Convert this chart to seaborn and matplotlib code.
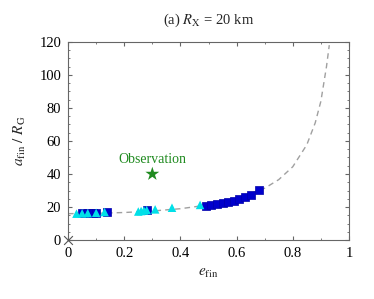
import numpy as np
import pandas as pd
import matplotlib
matplotlib.use("Agg")
from matplotlib import pyplot as plt
from matplotlib.ticker import MultipleLocator
import seaborn as sns

# dashed theory curve
curve_e = [0.0, 0.1, 0.2, 0.3, 0.4, 0.5, 0.6, 0.7, 0.75, 0.8, 0.85, 0.88, 0.9, 0.92, 0.93]
curve_a = [16.0, 16.2, 16.7, 17.6, 19.0, 21.3, 25.0, 31.4, 36.6, 44.4, 57.7, 71.0, 84.0, 105.0, 118.0]

# blue squares
sq_e = [0.05, 0.07, 0.09, 0.10, 0.14, 0.28, 0.49, 0.51, 0.53, 0.55, 0.57, 0.59, 0.61, 0.63, 0.65, 0.68]
sq_a = [16.2, 16.3, 16.4, 16.5, 16.9, 18.0, 20.5, 21.0, 21.6, 22.3, 23.0, 23.8, 24.8, 25.8, 27.5, 30.5]

# cyan triangles
tri_e = [0.03, 0.05, 0.07, 0.10, 0.13, 0.25, 0.26, 0.27, 0.28, 0.31, 0.37, 0.47]
tri_a = [16.0, 16.2, 16.3, 16.5, 17.0, 17.3, 17.6, 17.9, 18.2, 18.6, 19.6, 21.3]

obs_e, obs_a = [0.3], [40.0]

sns.set_style("ticks")
plt.rcParams["font.family"] = ["Liberation Serif", "DejaVu Serif"]
plt.rcParams["mathtext.fontset"] = "stix"

fig = plt.figure(figsize=(3.74, 2.99), dpi=100)
ax = fig.add_axes([0.182, 0.197, 0.751, 0.663])

sns.lineplot(x=curve_e, y=curve_a, ax=ax, color="#a0a0a0", lw=1.0,
             linestyle=(0, (4, 3)), zorder=1)
sns.scatterplot(x=sq_e, y=sq_a, ax=ax, marker="s", s=36, color="#0000cc",
                edgecolor="#0000aa", linewidth=0.5, zorder=2)
sns.scatterplot(x=tri_e, y=tri_a, ax=ax, marker="^", s=38, color="#00e0e8",
                edgecolor="none", zorder=3)
sns.scatterplot(x=obs_e, y=obs_a, ax=ax, marker="*", s=110, color="#1f8a1f",
                edgecolor="none", zorder=4)
sns.scatterplot(x=[0.0], y=[0.0], ax=ax, marker="x", s=40, color="#555555",
                linewidth=0.8, zorder=4, clip_on=False)
ax.text(0.3, 49, "Observation", color="#1f8a1f", fontsize=10, ha="center", va="center")

ax.set_xlim(0, 1)
ax.set_ylim(0, 120)
ax.xaxis.set_major_locator(MultipleLocator(0.2))
ax.xaxis.set_minor_locator(MultipleLocator(0.1))
ax.yaxis.set_major_locator(MultipleLocator(20))
ax.yaxis.set_minor_locator(MultipleLocator(5))
ax.set_xticks([0, 0.2, 0.4, 0.6, 0.8, 1.0])
ax.set_xticklabels(["0", "0.2", "0.4", "0.6", "0.8", "1"])
ax.tick_params(which="both", direction="in", top=True, right=True,
               color="#666666", labelcolor="black", labelsize=10.5, pad=5)
ax.tick_params(which="major", length=3)
ax.tick_params(which="minor", length=1.5)
for s in ax.spines.values():
    s.set_color("#666666")
    s.set_linewidth(0.8)

ax.set_xlabel(r"$e_{\rm fin}$", fontsize=11, labelpad=5)
ax.set_ylabel(r"$a_{\rm fin}\ /\ R_{\rm G}$", fontsize=11, labelpad=8)
ax.set_title(r"(a) $R_{\rm X}$ = 20 km", fontsize=10.5, pad=13)

fig.savefig("out.png", dpi=100)
